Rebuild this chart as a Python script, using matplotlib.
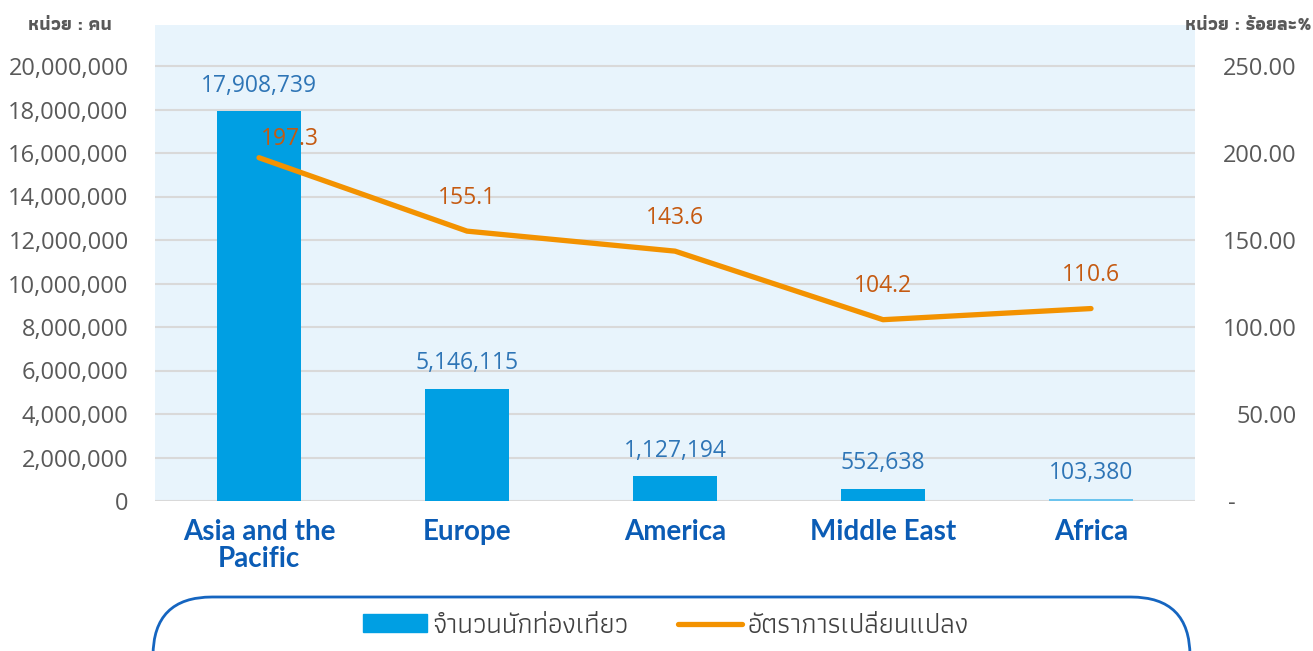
import matplotlib
matplotlib.use('Agg')
import matplotlib.pyplot as plt
from matplotlib.patches import FancyBboxPatch, Rectangle
from matplotlib.ticker import FuncFormatter

# ข้อมูล
regions = ['Asia and the\nPacific', 'Europe', 'America', 'Middle East', 'Africa']
tourists = [17908739, 5146115, 1127194, 552638, 103380]
change_pct = [197.3, 155.1, 143.6, 104.2, 110.6]
left_ticks = [0, 2000000, 4000000, 6000000, 8000000, 10000000,
              12000000, 14000000, 16000000, 18000000, 20000000]
right_ticks = [0, 50, 100, 150, 200, 250]
legend_labels = ['จำนวนนักท่องเที่ยว', 'อัตราการเปลี่ยนแปลง']

num_font = ['Open Sans', 'Athiti', 'DejaVu Sans']
cat_font = ['Lato', 'DejaVu Sans']
thai_font = ['Athiti', 'Open Sans', 'DejaVu Sans']

grey = '#595959'
bar_color = '#009FE3'
line_color = '#F39200'

fig = plt.figure(figsize=(13.13, 6.51), dpi=100)
ax = fig.add_axes([155 / 1313, 150 / 651, 1040 / 1313, 476 / 651])
ax2 = ax.twinx()

x = list(range(len(regions)))
colors = [bar_color] * (len(regions) - 1) + ['#6CC4EE']
ax.bar(x, tourists, width=0.4, color=colors, zorder=3)
ax.set_facecolor('#E8F4FC')
ax.set_xlim(-0.5, len(regions) - 0.5)
ax.set_ylim(0, 20000000 * 476 / 435)
ax.set_yticks(left_ticks)
ax.yaxis.set_major_formatter(FuncFormatter(lambda v, p: f'{int(v):,}'))
ax.grid(axis='y', color='#D9D9D9', linewidth=1.5, zorder=0)
ax.set_axisbelow(True)
for s in ax.spines.values():
    s.set_visible(False)
for s in ax2.spines.values():
    s.set_visible(False)
ax.tick_params(axis='y', length=0, pad=19, labelsize=17, labelcolor=grey)
ax.tick_params(axis='x', length=0, pad=13)
ax.set_xticks(x)
ax.set_xticklabels(regions, fontsize=20, fontweight='bold', color='#0B5CB5',
                   family=cat_font, linespacing=1.03)
for t in ax.get_yticklabels():
    t.set_family(num_font)

# ป้ายจำนวนบนแท่ง
for i, v in enumerate(tourists):
    ax.annotate(f'{v:,}', (i, v), xytext=(0, 18.5), textcoords='offset points',
                ha='center', va='center', fontsize=16.5, color='#2E75B6',
                family=num_font, zorder=5)

ax2.plot(x, change_pct, color=line_color, linewidth=3.8,
         solid_capstyle='round', solid_joinstyle='round', zorder=4)
ax2.set_ylim(0, 250 * 476 / 435)
ax2.set_yticks(right_ticks)
ax2.yaxis.set_major_formatter(
    FuncFormatter(lambda v, p: '-' + ' ' * 10 if v == 0 else f'{v:.2f}'))
ax2.tick_params(axis='y', length=0, pad=73, labelsize=17, labelcolor=grey)
for t in ax2.get_yticklabels():
    t.set_family(num_font)
    t.set_horizontalalignment('right')

# ป้ายอัตราการเปลี่ยนแปลง
for i, v in enumerate(change_pct):
    off = (22, 13.5) if i == 0 else (0, 24)
    ax2.annotate(f'{v}', (i, v), xytext=off, textcoords='offset points',
                 ha='center', va='center', fontsize=16.5, color='#C55A11',
                 family=num_font, zorder=6)

# หน่วย
fig.text(112 / 1313, 1 - 25 / 651, 'หน่วย : คน', ha='right', va='center',
         fontsize=13.5, fontweight='bold', color=grey, family=thai_font)
fig.text(1 - 1 / 1313, 1 - 25 / 651, 'หน่วย : ร้อยละ%', ha='right', va='center',
         fontsize=13.5, fontweight='bold', color=grey, family=thai_font)

# กรอบ legend
box = FancyBboxPatch((153 / 1313, -0.1), 1037 / 1313, (651 - 597) / 651 + 0.1,
                     boxstyle='round,pad=0,rounding_size=0.045',
                     mutation_aspect=1313 / 651,
                     transform=fig.transFigure, facecolor='white',
                     edgecolor='#1565C0', linewidth=2, zorder=1)
fig.patches.append(box)

h1 = Rectangle((0, 0), 1, 1, color=bar_color)
h2 = plt.Line2D([0], [0], color=line_color, linewidth=3.8, solid_capstyle='round')
leg = fig.legend([h1, h2], legend_labels, loc='center', ncol=2,
                 bbox_to_anchor=(666 / 1313, 25 / 651), frameon=False,
                 prop={'family': thai_font, 'size': 20}, labelcolor='#404040',
                 handlelength=2.3, handleheight=0.58, columnspacing=1.8,
                 handletextpad=0.18)

fig.savefig('out.png', dpi=100)
